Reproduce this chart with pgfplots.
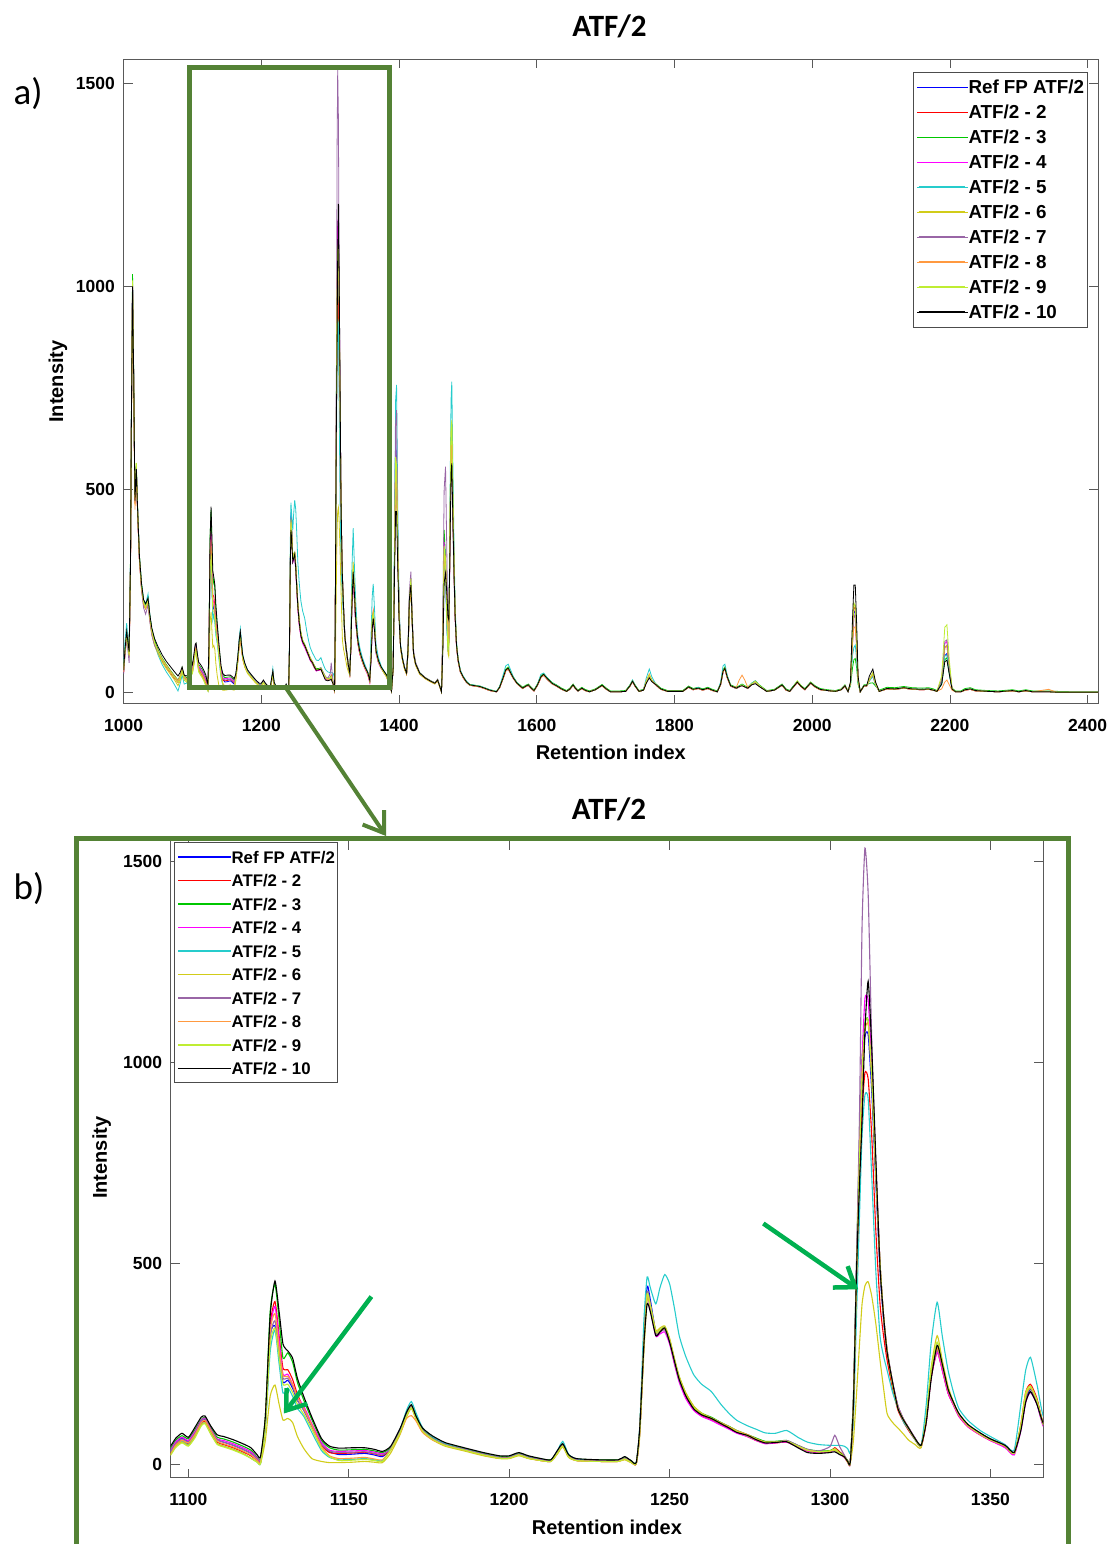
\documentclass[border=0pt]{standalone}
\usepackage{fontspec}
\setmainfont{Liberation Sans}
\newfontfamily\carlito{Carlito}
\usepackage{pgfplots}
\pgfplotsset{compat=1.18}
\usepackage{pgfplotstable}
\usetikzlibrary{arrows.meta}

\definecolor{cref}{rgb}{0,0,1}
\definecolor{ctwo}{rgb}{1,0,0}
\definecolor{cthree}{rgb}{0,0.78,0}
\definecolor{cfour}{rgb}{1,0,1}
\definecolor{cfive}{rgb}{0.15,0.8,0.8}
\definecolor{csix}{rgb}{0.82,0.8,0.1}
\definecolor{cseven}{rgb}{0.6,0.4,0.65}
\definecolor{ceight}{rgb}{1,0.6,0.25}
\definecolor{cnine}{rgb}{0.75,0.93,0.2}
\definecolor{cten}{rgb}{0,0,0}
\definecolor{frameg}{HTML}{548235}
\definecolor{arrowg}{HTML}{00B050}

\pgfplotstableread{
x a b c d e f g h i j
1000 52 50 55 48 62 50 45 50 55 55
1002 100 98 105 95 125 95 90 100 100 105
1004.5 145 140 150 140 170 135 130 145 140 150
1006.5 118 115 122 110 125 108 100 115 112 120
1008 95 92 100 88 98 85 72 92 90 100
1010 320 310 330 300 310 300 290 305 310 310
1011.5 720 700 740 710 700 690 700 690 710 720
1013 1000 990 1030 1010 1000 995 1005 985 1015 1000
1014.5 790 780 810 800 790 785 795 770 800 800
1016.5 470 465 475 470 470 462 468 450 480 472
1018.5 545 540 555 548 550 545 550 540 565 550
1020.5 440 435 445 438 445 435 440 432 448 442
1023 330 326 335 328 335 325 325 325 335 335
1026 262 258 266 258 268 255 252 258 262 268
1029 222 218 226 216 228 214 208 218 222 228
1032 212 208 215 205 218 205 192 208 210 218
1035.5 228 225 232 222 242 220 215 225 228 232
1038 188 184 190 180 192 178 175 184 186 192
1041 152 148 155 145 150 142 140 148 150 158
1045 125 120 128 120 118 115 115 122 122 132
1050 100 98 105 100 92 95 98 102 100 112
1056 80 78 84 80 68 74 80 82 80 92
1062 64 62 68 64 50 58 65 66 64 76
1068 50 48 54 50 35 44 52 52 50 63
1074 36 34 40 36 18 30 38 38 36 50
1079 26 24 30 26 3 16 28 28 24 40
1082 36 34 40 36 20 28 38 38 34 48
1085 56 54 60 56 42 50 58 58 54 62
1088 36 34 40 36 20 30 38 38 34 42
1091 32 30 36 32 22 26 34 34 30 40
1094 30 25 36 32 28 22 30 22 20 42
1096 55 50 60 56 48 45 52 48 42 65
1098 66 60 72 68 58 56 64 60 54 78
1100 58 52 64 60 50 48 56 54 46 68
1102 78 72 86 82 72 68 78 74 66 92
1104 106 102 112 110 100 98 108 104 96 118
1105.2 112 108 118 116 104 104 114 110 102 121
1107 86 82 92 88 78 76 86 84 76 96
1109 62 56 68 64 52 52 62 58 50 74
1111 56 50 64 60 46 46 56 52 44 70
1114 48 42 56 52 38 38 48 44 36 62
1117 38 32 46 42 28 28 38 34 26 52
1119.5 28 22 36 32 16 16 28 24 16 42
1121.5 14 10 18 16 6 6 14 10 6 24
1122.5 10 6 14 12 3 3 10 6 3 20
1124 100 110 120 105 90 60 100 105 95 120
1125.5 320 345 380 335 280 170 315 330 300 370
1127 345 406 449 394 335 198 358 376 340 457
1128.3 270 320 360 310 250 150 280 290 265 380
1129.5 205 240 265 225 178 111 215 222 200 300
1131 210 236 278 225 191 115 215 220 200 283
1132.5 190 212 255 200 170 105 195 200 180 265
1134 160 175 205 168 140 70 160 168 150 215
1136 135 140 160 145 120 40 135 140 125 169
1138.5 95 98 112 102 80 15 95 98 88 118
1141.5 50 48 60 55 35 8 50 45 40 65
1144 32 30 42 36 18 5 34 22 20 46
1147 25 28 36 33 12 5 30 15 10 41
1151 26 29 37 34 13 6 31 16 11 42
1155 28 31 38 35 15 8 32 18 13 42
1158 24 27 34 31 12 6 28 14 10 38
1160.5 20 23 30 27 10 5 24 12 8 33
1163 38 36 42 38 38 28 40 36 36 45
1166 82 80 86 82 88 75 84 78 80 90
1168 125 122 128 124 135 118 126 115 122 130
1169.5 145 142 148 144 157 140 146 122 142 149
1171 118 115 120 116 128 112 118 108 115 120
1173 86 84 88 85 92 82 86 80 84 91
1176 66 64 68 65 70 62 66 62 64 72
1180 50 48 52 50 52 46 50 48 48 55
1186 38 36 40 38 38 34 38 36 36 42
1192 26 24 28 26 26 22 26 24 24 30
1197 18 16 20 18 18 15 18 16 16 22
1200 18 16 20 18 18 15 18 16 16 22
1203 26 24 28 26 26 22 26 24 24 30
1206 18 16 20 18 18 15 18 16 16 22
1210 12 10 14 12 12 10 12 10 10 15
1213 10 8 12 10 10 8 10 8 8 12
1215 30 28 32 30 34 26 30 28 28 35
1216.7 48 46 50 48 58 44 48 46 46 52
1218.5 22 20 24 22 26 18 22 20 20 25
1221 12 10 14 12 14 10 12 10 10 15
1228 10 8 12 10 10 8 10 8 8 12
1234 10 8 12 10 10 8 10 8 8 12
1236 16 14 18 16 16 12 16 14 14 20
1238 8 6 10 8 8 5 8 6 6 10
1239.6 3 2 5 3 3 2 3 2 3 5
1240.7 80 85 88 82 95 70 85 80 82 91
1242 300 310 315 305 360 280 305 300 300 300
1243 443 425 430 420 467 410 430 420 425 400
1244 410 395 400 385 440 395 400 395 395 380
1245.7 330 325 330 320 400 335 325 330 330 321
1247 335 330 335 325 440 340 330 335 335 330
1248.5 342 338 340 330 473 345 335 340 342 340
1250 310 305 310 300 450 315 305 310 310 305
1251.5 260 255 262 250 390 265 255 260 260 258
1253 215 210 218 205 321 220 210 215 215 212
1255 175 170 178 165 270 180 172 175 175 172
1257.5 142 138 145 135 224 146 140 142 142 139
1260 126 122 128 120 200 128 124 126 126 124
1263 115 112 118 110 182 116 114 116 115 115
1266 102 100 105 98 150 104 102 104 102 102
1268.6 92 90 95 88 127 94 92 94 92 91
1271 82 80 85 78 110 84 82 84 82 80
1274.2 72 70 75 70 97 74 72 75 72 73
1277 62 60 66 60 88 64 62 64 62 62
1279.8 55 53 58 52 79 56 55 56 55 54
1283 56 54 58 54 78 56 56 56 56 55
1286.5 58 56 60 56 85 58 60 58 58 57
1290 46 44 48 44 68 46 48 46 46 42
1293 36 34 38 34 56 36 38 36 36 30
1296.5 32 30 34 30 50 32 34 32 32 28
1300 33 32 35 32 48 34 45 33 34 30
1301.5 38 42 40 36 48 36 73 40 38 32
1303 28 32 30 26 48 28 45 28 28 25
1304.4 20 22 22 18 46 20 25 20 20 20
1305.5 8 10 10 6 40 6 8 6 8 8
1306.3 4 4 5 3 30 3 4 3 4 5
1307.3 140 150 170 150 110 60 160 140 150 150
1308.3 480 460 510 490 380 180 520 470 480 491
1309.2 760 700 800 790 620 300 870 750 760 700
1310 950 880 1010 1010 820 400 1341 950 980 855
1310.9 1065 975 1100 1160 920 445 1534 1080 1095 1080
1311.9 1070 960 1105 1155 910 455 1420 1095 1105 1203
1313 930 820 960 1000 720 420 1060 960 970 1040
1314.3 700 580 720 740 480 350 740 720 730 760
1315.6 480 400 500 500 320 260 500 500 500 491
1316.7 360 320 370 370 270 190 370 370 370 370
1317.8 280 260 285 285 235 127 285 280 285 280
1319.5 200 190 205 205 180 105 205 200 200 205
1321.2 140 135 145 145 140 91 145 140 140 139
1323 110 105 112 112 105 75 112 110 110 110
1324.5 90 85 92 92 88 61 92 90 90 91
1326.5 65 62 66 66 62 50 66 64 64 65
1328.4 46 44 48 46 48 42 48 46 46 48
1330 110 105 112 108 150 115 110 110 115 105
1331.5 220 215 225 215 300 240 220 220 235 210
1333.4 285 280 290 280 404 321 285 290 305 297
1335 240 235 245 235 320 260 245 245 255 250
1336.8 180 178 185 178 235 195 185 185 190 188
1338.5 150 148 152 148 180 155 152 152 155 155
1340.2 122 120 125 120 139 125 125 124 125 127
1343 96 94 98 94 110 98 98 96 98 100
1346.8 76 74 78 74 85 76 78 76 76 79
1350 62 60 64 60 70 62 64 62 62 64
1354.6 46 44 48 42 50 46 48 46 46 48
1357.4 28 26 30 24 36 28 30 28 28 30
1359.5 90 100 95 85 150 100 90 95 95 85
1361 160 180 170 155 235 180 160 170 175 155
1362.5 188 200 190 180 267 195 180 190 195 182
1364.5 160 165 160 150 200 160 152 160 160 150
1366.5 100 103 100 95 120 100 98 100 100 103
1370 75 75 78 72 85 75 75 75 75 78
1374 60 60 62 58 65 60 60 60 60 62
1378 50 48 52 48 52 48 50 48 48 52
1382 40 38 42 38 40 38 40 38 38 42
1386 20 18 22 18 18 18 20 18 18 22
1389 2 2 3 2 2 2 2 2 2 3
1391.5 60 60 62 60 65 60 62 60 60 60
1393.5 350 340 360 340 400 320 340 330 340 300
1395 620 560 600 600 720 520 660 560 580 445
1396.4 572 545 555 560 757 535 695 545 560 445
1398 380 370 380 375 480 360 400 370 375 320
1400 200 195 200 195 220 190 205 195 195 180
1402.2 112 110 112 110 118 108 115 110 110 112
1405 82 80 82 80 85 78 84 80 80 82
1408 60 58 60 58 62 56 62 58 58 60
1410.9 47 45 47 45 48 44 48 45 46 47
1413 100 98 102 100 100 95 110 98 100 105
1415 220 215 225 220 215 210 250 215 225 230
1417.2 265 260 268 262 255 255 297 260 280 264
1419 180 175 182 178 175 170 200 175 185 180
1421 96 94 98 96 94 92 105 94 98 96
1424 70 68 72 70 68 66 74 68 70 70
1430 47 45 48 46 45 44 48 45 46 47
1438 35 34 36 35 34 33 36 34 35 35
1446 27 26 28 27 26 25 28 26 27 27
1452 22 21 23 22 21 20 23 21 22 22
1456 30 29 31 30 29 28 32 29 30 30
1459 15 14 16 15 14 13 16 14 15 15
1461.6 1 1 2 1 1 1 2 1 1 1
1463.5 120 120 125 120 120 110 180 118 122 100
1465.5 380 360 400 370 350 320 500 340 360 270
1467.5 300 320 330 310 280 334 556 300 310 293
1469.5 170 200 200 175 150 190 330 230 180 240
1471 110 130 120 110 100 95 160 140 110 185
1472.3 130 140 130 125 120 87 120 120 115 178
1474 400 390 400 380 480 420 360 390 430 360
1475.5 620 600 610 590 720 640 560 600 650 540
1476.6 640 620 630 610 765 660 560 620 671 564
1478 480 460 470 460 580 500 420 460 500 440
1480 300 290 295 290 340 300 270 290 305 280
1481.5 190 185 190 185 210 190 175 185 195 185
1483.5 115 112 115 112 125 115 110 112 118 115
1485.8 79 77 79 77 84 78 76 77 80 79
1489 52 50 52 50 55 50 50 50 52 52
1493 38 36 38 36 40 36 36 36 38 38
1498 25 24 26 24 27 24 24 24 25 25
1502.8 18 17 19 17 19 17 17 17 18 18
1510 16 15 17 15 17 15 15 15 16 16
1517.3 14 13 15 13 15 13 13 13 14 14
1524 10 9 11 9 11 9 9 9 10 10
1531.8 5 4 6 4 6 4 4 4 5 5
1541.5 1 1 2 1 2 1 1 1 1 1
1546 12 11 13 11 14 11 11 11 12 12
1551 35 33 37 33 42 33 33 33 35 35
1555 55 53 57 53 65 53 53 53 55 55
1558.5 59 57 62 57 69 57 57 57 60 59
1562 48 46 50 46 55 46 46 46 48 48
1566 35 34 37 34 38 34 34 34 35 35
1571.3 22 21 24 21 23 21 21 21 22 22
1579.6 10 9 12 9 10 9 9 9 10 10
1584 15 14 17 14 15 14 14 14 15 15
1587.8 18 17 20 17 18 17 17 17 18 18
1592 10 9 12 9 10 9 9 9 10 10
1596 4 3 6 3 4 3 3 3 4 4
1601 18 17 20 17 20 17 17 17 18 18
1606 38 36 40 36 44 36 36 36 38 38
1610 44 42 46 42 47 42 42 42 44 44
1615 34 32 36 32 36 32 32 32 34 34
1622 22 21 24 21 23 21 21 21 22 22
1629.5 15 14 17 14 16 14 14 14 15 15
1636 8 7 10 7 8 7 7 7 8 8
1643.4 2 2 4 2 2 2 2 2 2 2
1648 8 7 10 7 8 7 7 7 8 8
1652.7 18 17 20 17 18 17 17 17 18 18
1656 10 9 12 9 10 9 9 9 10 10
1659.9 3 3 5 3 3 3 3 3 3 3
1665.4 10 9 12 9 10 9 9 9 10 10
1670 5 4 7 4 5 4 4 4 5 5
1676.5 1 1 3 1 1 1 1 1 1 1
1685 6 6 8 6 6 6 6 6 6 6
1694.8 17 16 19 16 17 16 16 16 17 17
1701 8 7 10 7 8 7 7 7 8 8
1707 1 1 3 1 1 1 1 1 1 1
1720 1 1 3 1 1 1 1 1 1 1
1729 2 2 4 2 2 2 2 2 2 2
1735 15 14 17 14 16 14 14 14 15 15
1739 27 26 29 26 30 26 26 26 27 27
1743 15 14 17 14 16 14 14 14 15 15
1748.5 2 2 4 2 2 2 2 2 2 2
1755 5 5 7 5 6 5 5 5 5 5
1759 25 25 27 25 35 25 25 28 26 22
1763.4 40 40 42 40 57 40 40 45 42 35
1767 28 28 30 28 38 28 28 30 28 26
1773.4 18 17 20 17 18 17 17 17 18 18
1780 8 7 10 7 8 7 7 7 8 8
1790 2 2 4 2 2 2 2 2 2 2
1812 2 2 4 2 2 2 2 2 2 2
1820.5 13 12 15 12 13 12 12 12 13 13
1827 7 6 9 6 7 6 6 6 7 7
1834.4 10 9 12 9 12 9 9 9 10 10
1841 6 5 8 5 6 5 5 5 6 6
1848.3 10 9 12 9 10 9 9 9 10 10
1855 5 4 7 4 5 4 4 4 5 5
1862.1 1 1 3 1 1 1 1 1 1 1
1867 20 19 22 19 25 19 19 19 20 20
1870.5 52 50 55 50 65 50 50 50 52 52
1873.2 59 57 62 57 69 57 57 57 60 59
1876.5 38 36 40 36 42 36 36 36 38 38
1881.5 16 15 18 15 16 15 15 15 16 16
1889.8 10 9 12 9 10 9 9 12 10 10
1894 14 13 16 13 14 13 13 30 14 14
1898.1 18 17 20 17 18 17 17 42 18 16
1902 14 13 16 13 14 13 13 30 14 13
1906.4 10 9 12 9 10 9 9 12 10 10
1912 20 19 22 19 22 19 19 20 20 18
1917.4 26 25 28 25 28 25 25 27 26 21
1923 16 15 18 15 16 15 15 16 16 14
1934 2 2 4 2 2 2 2 2 2 2
1945 5 5 7 5 5 5 5 5 5 5
1956.2 18 17 20 17 18 17 17 17 18 18
1962 6 5 8 5 6 5 5 5 6 6
1967.2 2 2 4 2 2 2 2 2 2 2
1972 12 11 14 11 12 11 11 11 12 12
1978.3 25 24 27 24 25 24 24 24 28 25
1984 14 13 16 13 14 13 13 13 15 14
1989.4 7 6 9 6 7 6 6 6 7 7
1993.5 15 14 17 14 15 14 14 14 15 15
1997.6 23 22 25 22 23 22 22 22 24 23
2004 14 13 16 13 14 13 13 13 14 14
2011.5 7 6 9 6 7 6 6 6 7 7
2022 4 4 6 4 4 4 4 4 4 4
2033.6 2 2 4 2 2 2 2 2 2 2
2042 6 6 8 6 6 6 6 6 6 6
2047.5 16 15 18 15 16 15 15 15 16 16
2052 2 2 3 2 2 2 2 2 2 1
2055.5 20 20 15 20 18 22 20 20 22 25
2058.5 120 130 60 140 90 160 130 120 150 180
2060.5 200 210 80 185 110 215 185 160 220 264
2062.5 195 205 83 190 116 215 190 161 212 264
2064.5 120 125 60 110 80 140 115 110 130 170
2066.5 30 30 20 30 25 35 30 30 30 40
2069.7 1 1 2 1 1 1 1 1 1 1
2075.2 16 15 18 15 16 15 15 15 16 16
2079 16 15 18 15 16 15 15 15 16 16
2083 30 30 22 28 28 32 30 30 30 40
2088 45 44 23 40 38 48 42 45 46 57
2092 20 20 15 18 18 22 20 20 20 25
2097.3 2 2 5 2 2 2 2 2 2 2
2108.4 9 8 12 8 9 8 8 8 9 9
2120 8 7 11 7 8 7 7 7 8 8
2133 11 10 14 10 11 10 10 10 11 11
2145 8 7 11 7 8 7 7 7 8 8
2160 7 6 10 6 7 6 6 6 7 7
2169 8 7 11 7 8 7 7 7 8 8
2176 5 5 8 5 5 5 5 5 5 5
2181 2 2 4 2 2 2 2 2 2 2
2188 20 25 20 30 25 30 30 8 40 20
2192.5 90 110 80 120 90 110 125 25 160 75
2195.6 95 115 85 125 92 115 129 30 166 79
2199 50 60 45 60 50 60 65 18 80 45
2203 8 8 10 8 8 8 8 5 10 8
2208 1 1 3 1 1 1 1 1 1 1
2215.9 1 1 3 1 1 1 1 1 1 1
2222 6 5 9 5 6 5 5 5 6 6
2229.7 8 7 11 7 8 7 7 7 8 8
2237 4 3 6 3 4 3 3 3 4 4
2254.6 2 2 4 2 2 2 2 2 2 2
2270 1 1 3 1 1 1 1 1 1 1
2290.7 4 3 6 3 4 3 3 3 4 4
2300 1 1 3 1 1 1 1 1 1 1
2310 4 3 6 3 4 3 3 3 4 4
2320 1 1 3 1 1 1 1 1 1 1
2343.2 1 1 3 1 1 1 1 7 1 1
2355 0 0 2 0 0 0 0 0 0 0
2380 0 0 1 0 0 0 0 0 0 0
2415 0 0 1 0 0 0 0 0 0 0
}\chrom

\pgfplotsset{
  chromaxis/.style={
    scale only axis,
    axis line style={black!65, line width=0.9pt},
    every tick/.style={black!65, line width=0.9pt},
    major tick length=9pt,
    tick align=inside,
    tick pos=both,
    scaled ticks=false,
    /pgf/number format/1000 sep={},
    /pgf/number format/assume math mode=true,
    ticklabel style={font=\bfseries\fontsize{17.5}{17.5}\selectfont, inner sep=0pt},
    ytick={0,500,1000,1500},
    yticklabel style={anchor=east, xshift=-8.5pt},
    legend cell align=left,
    cycle list={{cref},{ctwo},{cthree},{cfour},{cfive},{csix},{cseven},{ceight},{cnine},{cten}},
  },
}

\begin{document}
\begin{tikzpicture}
\useasboundingbox (0pt,0pt) rectangle (1112pt,1544pt);

% ---------- panel a ----------
\begin{axis}[chromaxis,
  at={(123.6pt,840.2pt)}, anchor=south west,
  width=974.4pt, height=644.7pt,
  xmin=1000, xmax=2415, ymin=-28.6, ymax=1560,
  xtick={1000,1200,...,2400},
  xticklabel style={anchor=base, yshift=-27.8pt},
  every axis plot/.append style={line width=0.8pt},
  legend image code/.code={\path (0pt,0pt) -- (51pt,0pt); \draw[#1, line width=1.6pt] (1.6pt,0pt) -- (47.6pt,0pt);},
  legend style={at={(0.9893,0.9805)}, anchor=north east, draw=black!70, line width=1pt, fill=white,
    inner xsep=3pt, inner ysep=4pt, row sep=2.35pt,
    font=\bfseries\fontsize{18.8}{18.8}\selectfont,
    nodes={inner sep=0pt, text height=17.75pt, text depth=4.85pt}},
]
\addplot table[x=x,y=a] {\chrom};
\addplot table[x=x,y=b] {\chrom};
\addplot table[x=x,y=c] {\chrom};
\addplot table[x=x,y=d] {\chrom};
\addplot table[x=x,y=e] {\chrom};
\addplot table[x=x,y=f] {\chrom};
\addplot table[x=x,y=g] {\chrom};
\addplot table[x=x,y=h] {\chrom};
\addplot table[x=x,y=i] {\chrom};
\addplot table[x=x,y=j] {\chrom};
\legend{Ref FP ATF/2, ATF/2 - 2, ATF/2 - 3, ATF/2 - 4, ATF/2 - 5, ATF/2 - 6, ATF/2 - 7, ATF/2 - 8, ATF/2 - 9, ATF/2 - 10}
\end{axis}

% ---------- panel b ----------
\begin{axis}[chromaxis,
  at={(170.7pt,66.1pt)}, anchor=south west,
  width=872.3pt, height=637pt,
  xmin=1094.5, xmax=1366.4, ymin=-33, ymax=1552,
  xtick={1100,1150,...,1350},
  xticklabel style={anchor=base, yshift=-28pt},
  every axis plot/.append style={line width=1.1pt, smooth, tension=0.35},
  legend image code/.code={\path (0pt,0pt) -- (53pt,0pt); \draw[#1, line width=1.6pt] (1.6pt,0pt) -- (48.6pt,0pt);},
  legend style={at={(0.0038,0.9976)}, anchor=north west, draw=black!70, line width=1pt, fill=white,
    inner xsep=3pt, inner ysep=3pt, row sep=1.3pt,
    font=\bfseries\fontsize{16.8}{16.8}\selectfont,
    nodes={inner sep=0pt, text height=17.1pt, text depth=5.1pt}},
]
\addplot table[x=x,y=a] {\chrom};
\addplot table[x=x,y=b] {\chrom};
\addplot table[x=x,y=c] {\chrom};
\addplot table[x=x,y=d] {\chrom};
\addplot table[x=x,y=e] {\chrom};
\addplot table[x=x,y=f] {\chrom};
\addplot table[x=x,y=g] {\chrom};
\addplot table[x=x,y=h] {\chrom};
\addplot table[x=x,y=i] {\chrom};
\addplot table[x=x,y=j] {\chrom};
\legend{Ref FP ATF/2, ATF/2 - 2, ATF/2 - 3, ATF/2 - 4, ATF/2 - 5, ATF/2 - 6, ATF/2 - 7, ATF/2 - 8, ATF/2 - 9, ATF/2 - 10}
\end{axis}

% ---------- labels ----------
\node[font=\carlito\bfseries\fontsize{31}{31}\selectfont] at (609.5pt,1517.3pt) {ATF/2};
\node[font=\carlito\bfseries\fontsize{31}{31}\selectfont] at (609pt,735pt) {ATF/2};
\node[font=\bfseries\fontsize{20}{20}\selectfont] at (610.8pt,792pt) {Retention index};
\node[font=\bfseries\fontsize{20}{20}\selectfont] at (606.9pt,17pt) {Retention index};
\node[font=\bfseries\fontsize{20}{20}\selectfont, rotate=90] at (58pt,1162.5pt) {Intensity};
\node[font=\bfseries\fontsize{20}{20}\selectfont, rotate=90] at (101.8pt,386.3pt) {Intensity};
\node[font=\carlito\fontsize{37}{37}\selectfont] at (28pt,1450pt) {a)};
\node[font=\carlito\fontsize{37}{37}\selectfont] at (29pt,655pt) {b)};

% ---------- frames and arrows ----------
\draw[frameg, line width=5pt, line join=miter] (189pt,856.6pt) rectangle (389.3pt,1476.1pt);
\draw[frameg, line width=5pt, line join=miter] (76pt,-5pt) -- (76pt,705.5pt) -- (1068.5pt,705.5pt) -- (1068.5pt,-5pt);
\draw[frameg, line width=4pt, -{Straight Barb[length=19pt,width=26pt]}] (286pt,856pt) -- (386pt,708pt);
\draw[arrowg, line width=4.5pt, -{Straight Barb[length=18pt,width=26pt]}] (371.4pt,247.4pt) -- (283.9pt,130.5pt);
\draw[arrowg, line width=4.5pt, -{Straight Barb[length=18pt,width=26pt]}] (763.3pt,320.5pt) -- (858.2pt,254.7pt);
\end{tikzpicture}
\end{document}
